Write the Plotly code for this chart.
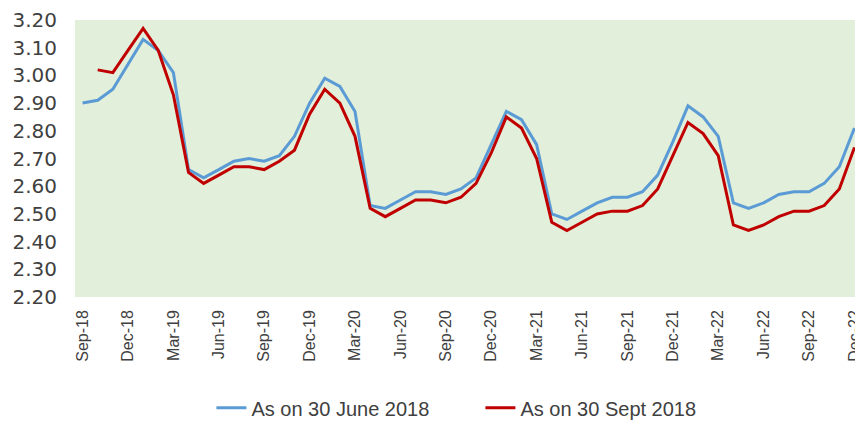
import pandas as pd
import plotly.graph_objects as go

months = pd.date_range("2018-09-01", "2022-12-01", freq="MS").strftime("%b-%y").tolist()

june_2018 = [2.90, 2.91, 2.95, 3.04, 3.13, 3.09, 3.01, 2.66, 2.63, 2.66, 2.69, 2.70,
             2.69, 2.71, 2.78, 2.90, 2.99, 2.96, 2.87, 2.53, 2.52, 2.55, 2.58, 2.58,
             2.57, 2.59, 2.63, 2.75, 2.87, 2.84, 2.75, 2.50, 2.48, 2.51, 2.54, 2.56,
             2.56, 2.58, 2.64, 2.76, 2.89, 2.85, 2.78, 2.54, 2.52, 2.54, 2.57, 2.58,
             2.58, 2.61, 2.67, 2.81]

sept_2018 = [None, 3.02, 3.01, 3.09, 3.17, 3.09, 2.93, 2.65, 2.61, 2.64, 2.67, 2.67,
             2.66, 2.69, 2.73, 2.86, 2.95, 2.90, 2.78, 2.52, 2.49, 2.52, 2.55, 2.55,
             2.54, 2.56, 2.61, 2.72, 2.85, 2.81, 2.70, 2.47, 2.44, 2.47, 2.50, 2.51,
             2.51, 2.53, 2.59, 2.71, 2.83, 2.79, 2.71, 2.46, 2.44, 2.46, 2.49, 2.51,
             2.51, 2.53, 2.59, 2.74]

y_ticks = [2.20, 2.30, 2.40, 2.50, 2.60, 2.70, 2.80, 2.90, 3.00, 3.10, 3.20]
x_tick_idx = list(range(0, len(months), 3))
x_tick_text = [months[i] for i in x_tick_idx]

idx = list(range(len(months)))

fig = go.Figure()
fig.add_trace(go.Scatter(x=idx, y=june_2018, mode="lines", name="As on 30 June 2018",
                         line=dict(color="#5B9BD5", width=3)))
fig.add_trace(go.Scatter(x=idx, y=sept_2018, mode="lines", name="As on 30 Sept 2018",
                         line=dict(color="#C00000", width=3)))

fig.update_layout(
    width=855, height=425,
    margin=dict(l=67, r=0, t=9, b=136),
    paper_bgcolor="white",
    plot_bgcolor="#E2EFDA",
    showlegend=True,
    legend=dict(orientation="h", x=0.174, xanchor="left", y=-0.40, yanchor="middle",
                entrywidth=224, entrywidthmode="pixels",
                font=dict(family="Liberation Sans", size=20, color="#404040"),
                bgcolor="rgba(0,0,0,0)"),
    xaxis=dict(range=[-0.5, 51.3], tickmode="array", tickvals=x_tick_idx, ticktext=x_tick_text,
               tickangle=-90, showgrid=False, zeroline=False, showline=False,
               tickfont=dict(family="Liberation Sans", size=16, color="#404040"),
               ticks="", ticklen=0, ticklabelstandoff=9, ticklabeloverflow="allow"),
    yaxis=dict(range=[2.2, 3.2], tickmode="array", tickvals=y_ticks,
               ticktext=[f"{v:.2f}" for v in y_ticks],
               showgrid=False, zeroline=False, showline=False,
               tickfont=dict(family="DejaVu Sans", size=20, color="#404040"),
               ticks="", ticklen=0, ticklabelstandoff=17, ticklabeloverflow="allow"),
)

fig.write_html("out.html")
